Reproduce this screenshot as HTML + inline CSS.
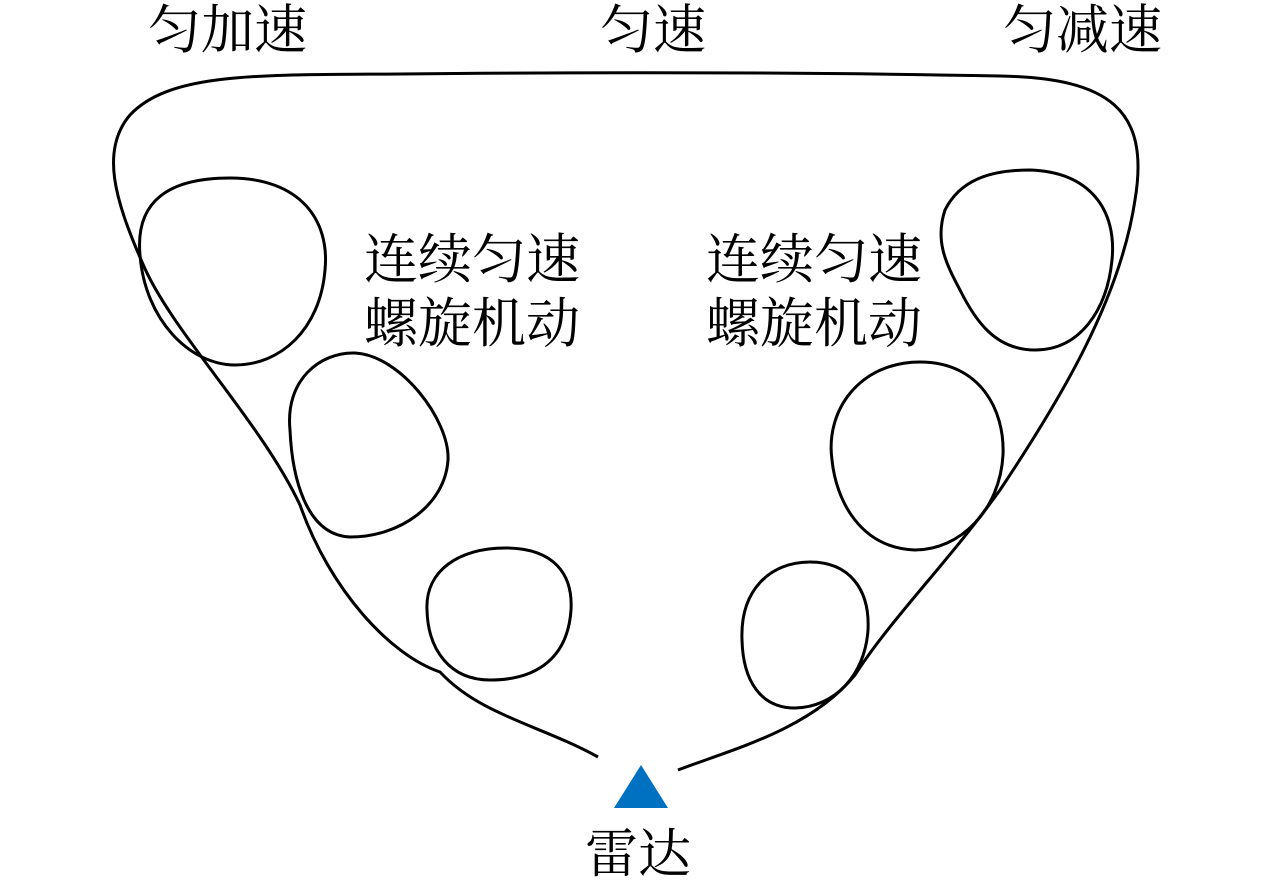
<!DOCTYPE html>
<html><head><meta charset="utf-8"><style>
html,body{margin:0;padding:0;background:#fff}
svg{display:block}
text{font-family:"Liberation Serif","Noto Serif CJK SC","Noto Sans CJK SC",serif;fill:#000}
</style></head><body>
<svg width="1280" height="884" viewBox="0 0 1280 884">
<g fill="none" stroke="#000" stroke-width="3">
<path d="M598,757 C540,725 480,715 440,672 C390,655 330,590 300,505 C260,420 170,330 142,262 C115,200 100,150 130,115 C170,72 260,75 400,74 C600,72 800,72 1000,76 C1110,78 1150,110 1135,200 C1120,300 1060,400 1000,490 C950,560 890,620 855,675 C810,730 730,750 678,770"/>
<path d="M140,255 C135,200 170,178 230,178 C300,178 330,220 325,270 C320,330 280,365 235,365 C190,365 145,320 140,255 Z"/>
<path d="M290,430 C285,380 320,352 355,353 C400,355 450,420 448,460 C445,505 400,537 350,537 C305,535 292,475 290,430 Z"/>
<path d="M427,610 C425,570 460,548 505,548 C555,548 573,575 571,610 C568,655 540,680 490,680 C450,680 428,650 427,610 Z"/>
<path d="M945,210 C960,180 990,170 1030,170 C1090,172 1117,210 1112,260 C1107,310 1080,350 1035,350 C995,350 975,320 960,290 C945,262 935,240 945,210 Z"/>
<path d="M832,460 C825,410 860,362 920,362 C980,362 1005,410 1003,455 C1000,510 960,550 915,550 C860,548 836,500 832,460 Z"/>
<path d="M742,640 C740,590 770,562 810,562 C850,562 870,590 868,630 C865,675 835,707 795,708 C760,708 743,680 742,640 Z"/>
</g>
<polygon points="614,808 668,808 641,765" fill="#0070c0"/>
<g font-size="53">
<text x="148" y="48">匀加速</text>
<text x="600" y="48">匀速</text>
<text x="1003" y="48">匀减速</text>
<text x="364" y="278" font-size="54">连续匀速</text>
<text x="364" y="342" font-size="54">螺旋机动</text>
<text x="706" y="278" font-size="54">连续匀速</text>
<text x="706" y="342" font-size="54">螺旋机动</text>
<text x="585" y="872">雷达</text>
</g>
</svg>
</body></html>
